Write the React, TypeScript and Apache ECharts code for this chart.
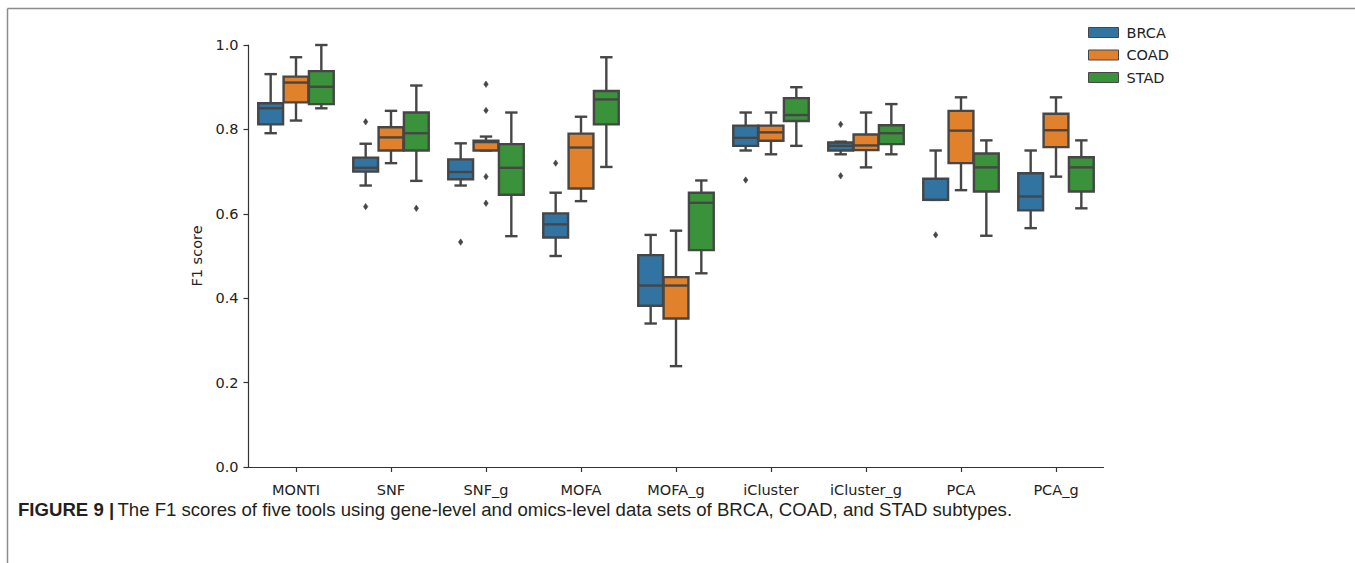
import React, { useEffect, useRef } from "react";
import * as echarts from "echarts";

const categories = ["MONTI", "SNF", "SNF_g", "MOFA", "MOFA_g", "iCluster", "iCluster_g", "PCA", "PCA_g"];
const seriesNames = ["BRCA", "COAD", "STAD"];
const seriesColors = ["#3274a1", "#e1812c", "#3a923a"];
const yTicks = [0, 0.2, 0.4, 0.6, 0.8, 1.0];

// [min, q1, median, q3, max] per category
const brcaStats = [
  [0.791, 0.812, 0.85, 0.862, 0.931],
  [0.667, 0.7, 0.709, 0.733, 0.766],
  [0.667, 0.682, 0.699, 0.729, 0.767],
  [0.5, 0.544, 0.575, 0.601, 0.65],
  [0.34, 0.382, 0.43, 0.502, 0.55],
  [0.75, 0.761, 0.78, 0.809, 0.84],
  [0.741, 0.75, 0.761, 0.769, 0.771],
  [0.633, 0.633, 0.633, 0.683, 0.75],
  [0.566, 0.608, 0.641, 0.696, 0.75],
];
const coadStats = [
  [0.821, 0.864, 0.911, 0.925, 0.971],
  [0.72, 0.75, 0.781, 0.805, 0.844],
  [0.75, 0.75, 0.77, 0.773, 0.783],
  [0.63, 0.66, 0.757, 0.79, 0.83],
  [0.239, 0.352, 0.43, 0.45, 0.56],
  [0.741, 0.773, 0.793, 0.809, 0.84],
  [0.71, 0.751, 0.762, 0.788, 0.84],
  [0.656, 0.72, 0.797, 0.844, 0.876],
  [0.688, 0.758, 0.798, 0.837, 0.876],
];
const stadStats = [
  [0.85, 0.86, 0.901, 0.938, 1.0],
  [0.678, 0.75, 0.791, 0.84, 0.904],
  [0.547, 0.645, 0.709, 0.765, 0.84],
  [0.711, 0.812, 0.871, 0.891, 0.971],
  [0.459, 0.514, 0.626, 0.65, 0.679],
  [0.761, 0.82, 0.834, 0.874, 0.9],
  [0.741, 0.765, 0.791, 0.81, 0.86],
  [0.548, 0.653, 0.71, 0.743, 0.774],
  [0.613, 0.653, 0.71, 0.734, 0.774],
];
// [category index, value]
const brcaOutliers = [
  [1, 0.818], [1, 0.617], [2, 0.533], [3, 0.72], [5, 0.68], [6, 0.812], [6, 0.69], [7, 0.55],
];
const coadOutliers = [
  [2, 0.907], [2, 0.845], [2, 0.688], [2, 0.625],
];
const stadOutliers = [
  [1, 0.613],
];

const caption = "The F1 scores of five tools using gene-level and omics-level data sets of BRCA, COAD, and STAD subtypes.";

const LINE = "#464646";
const TEXT = "#222222";
const FONT = "DejaVu Sans";

function slotGeom(api: any, k: number, cat: number) {
  const c = api.coord([cat, 0]);
  const bw = api.size([1, 0])[0];
  const slot = (bw * 0.8) / 3;
  return { cx: c[0] + (k - 1) * slot, w: slot * 0.98 };
}

function boxRender(k: number) {
  return (params: any, api: any) => {
    const cat = api.value(0);
    const v = [1, 2, 3, 4, 5].map((i) => api.value(i));
    const { cx, w } = slotGeom(api, k, cat);
    const hw = w / 2;
    const capHw = w / 4;
    const y = v.map((val) => api.coord([cat, val])[1]);
    const color = api.visual("color");
    const ls = { stroke: LINE, lineWidth: 2.4 };
    return {
      type: "group",
      children: [
        { type: "line", shape: { x1: cx, y1: y[3], x2: cx, y2: y[4] }, style: ls },
        { type: "line", shape: { x1: cx, y1: y[1], x2: cx, y2: y[0] }, style: ls },
        { type: "line", shape: { x1: cx - capHw, y1: y[4], x2: cx + capHw, y2: y[4] }, style: ls },
        { type: "line", shape: { x1: cx - capHw, y1: y[0], x2: cx + capHw, y2: y[0] }, style: ls },
        {
          type: "rect",
          shape: { x: cx - hw, y: y[3], width: w, height: y[1] - y[3] },
          style: { fill: color, stroke: LINE, lineWidth: 2.4 },
        },
        { type: "line", shape: { x1: cx - hw, y1: y[2], x2: cx + hw, y2: y[2] }, style: ls },
      ],
    };
  };
}

function outlierRender(k: number) {
  return (params: any, api: any) => {
    const cat = api.value(0);
    const val = api.value(1);
    const { cx } = slotGeom(api, k, cat);
    const cy = api.coord([cat, val])[1];
    return {
      type: "polygon",
      shape: { points: [[cx, cy - 3.2], [cx + 2.2, cy], [cx, cy + 3.2], [cx - 2.2, cy]] },
      style: { fill: LINE, stroke: LINE, lineWidth: 0.6 },
    };
  };
}

export default function App() {
  const ref = useRef<HTMLDivElement>(null);
  useEffect(() => {
    if (!ref.current) return;
    const chart = echarts.init(ref.current, undefined, { renderer: "svg" });
    const stats = [brcaStats, coadStats, stadStats];
    const outs = [brcaOutliers, coadOutliers, stadOutliers];
    const series: any[] = [];
    seriesNames.forEach((name, k) => {
      series.push({
        type: "custom",
        name,
        itemStyle: { color: seriesColors[k] },
        renderItem: boxRender(k),
        encode: { x: 0, y: [1, 2, 3, 4, 5] },
        data: stats[k].map((s, i) => [i, ...s]),
        z: 2,
      });
    });
    seriesNames.forEach((name, k) => {
      series.push({
        type: "custom",
        name: name + " outliers",
        itemStyle: { color: LINE },
        renderItem: outlierRender(k),
        encode: { x: 0, y: 1 },
        data: outs[k],
        z: 3,
      });
    });
    chart.setOption({
      animation: false,
      backgroundColor: "#ffffff",
      grid: { left: 248.5, top: 45, width: 855, height: 422, containLabel: false },
      legend: {
        data: seriesNames,
        orient: "vertical",
        left: 1083,
        top: 19,
        icon: "rect",
        itemWidth: 30,
        itemHeight: 10,
        itemGap: 5.5,
        itemStyle: { borderColor: LINE, borderWidth: 1 },
        textStyle: { fontFamily: FONT, fontSize: 14.5, color: TEXT, lineHeight: 17, padding: [0, 0, 0, 3] },
      },
      xAxis: {
        type: "category",
        data: categories,
        boundaryGap: true,
        axisLine: { show: true, lineStyle: { color: "#333", width: 1.2 } },
        axisTick: { show: true, alignWithLabel: true, length: 5, lineStyle: { color: "#333", width: 1.2 } },
        axisLabel: { fontFamily: FONT, fontSize: 14.5, color: TEXT, margin: 15 },
        splitLine: { show: false },
      },
      yAxis: {
        type: "value",
        min: 0,
        max: 1,
        interval: 0.2,
        name: "F1 score",
        nameLocation: "middle",
        nameRotate: 90,
        nameGap: 38,
        nameTextStyle: { fontFamily: FONT, fontSize: 14.5, color: TEXT },
        axisLine: { show: true, lineStyle: { color: "#333", width: 1.2 } },
        axisTick: { show: true, length: 5, lineStyle: { color: "#333", width: 1.2 } },
        axisLabel: {
          fontFamily: FONT,
          fontSize: 14.5,
          color: TEXT,
          margin: 10,
          formatter: (v: number) => {
            const t = yTicks.find((x) => Math.abs(x - v) < 1e-6);
            return (t ?? v).toFixed(1);
          },
        },
        splitLine: { show: false },
      },
      graphic: [
        { type: "line", shape: { x1: 7.5, y1: 8.5, x2: 1355, y2: 8.5 }, style: { stroke: "#8c8c8c", lineWidth: 1.5 } },
        { type: "line", shape: { x1: 7.5, y1: 8.5, x2: 7.5, y2: 563 }, style: { stroke: "#8c8c8c", lineWidth: 1.5 } },
        {
          type: "text",
          left: 18,
          top: 500,
          style: {
            text: "{b|FIGURE 9 |} {n|" + caption + "}",
            rich: {
              b: { fontFamily: "Liberation Sans", fontSize: 18.6, fontWeight: "bold", fill: "#231f20" },
              n: { fontFamily: "Liberation Sans", fontSize: 18.6, fill: "#231f20" },
            },
          },
        },
      ],
      series,
    });
    return () => chart.dispose();
  }, []);
  return (
    <div style={{ position: "fixed", left: 0, top: 0, width: 1355, height: 563, background: "#fff" }}>
      <div ref={ref} style={{ width: 1355, height: 563 }} />
    </div>
  );
}
